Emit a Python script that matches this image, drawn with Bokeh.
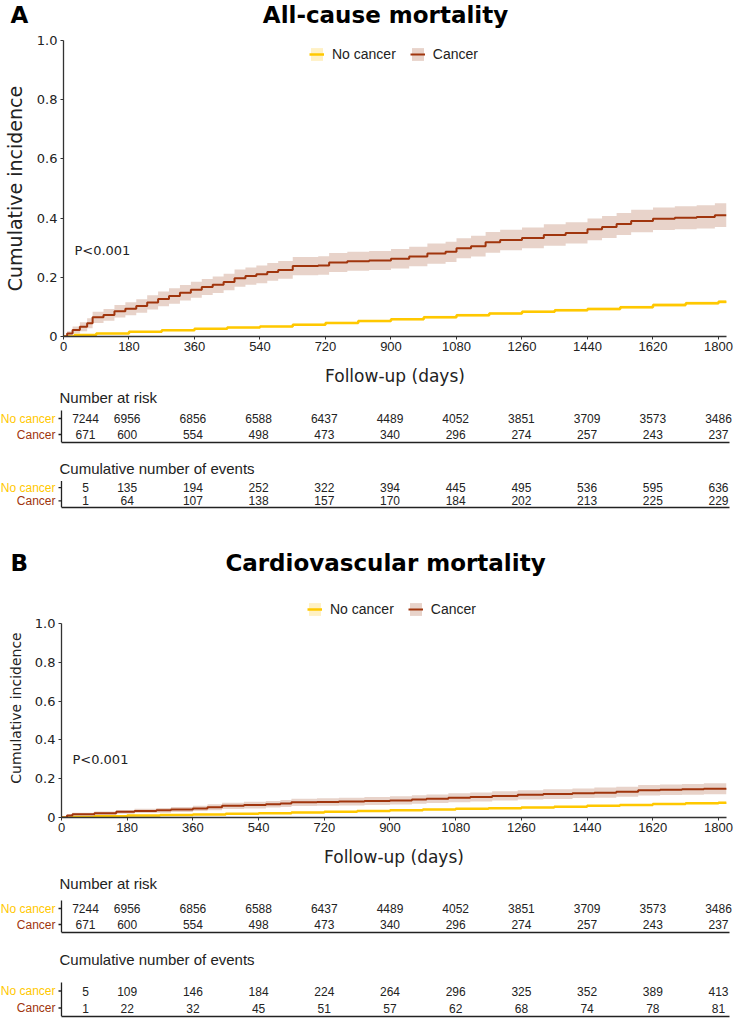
from math import pi
from bokeh.plotting import figure
from bokeh.models import Range1d, FixedTicker, Label, Legend, LegendItem
from bokeh.layouts import column
from bokeh.core.properties import value
from bokeh.embed import file_html
from bokeh.resources import INLINE

# ---------------- data ----------------
x_ticks = [0, 180, 360, 540, 720, 900, 1080, 1260, 1440, 1620, 1800]
y_ticks = [0, 0.2, 0.4, 0.6, 0.8, 1.0]
groups = ["No cancer", "Cancer"]

# Panel A: all-cause mortality
a_ca_t = [0, 10, 25, 45, 65, 80, 110, 140, 170, 200, 230, 260, 290, 320, 350, 380, 410, 440, 470, 500,
          530, 560, 590, 630, 700, 730, 780, 840, 900, 950, 1000, 1050, 1080, 1120, 1160, 1200, 1260, 1320,
          1380, 1440, 1480, 1520, 1560, 1620, 1680, 1740, 1790, 1822]
a_ca_y = [0, 0.010, 0.022, 0.033, 0.045, 0.065, 0.073, 0.085, 0.094, 0.103, 0.115, 0.127, 0.137, 0.148,
          0.158, 0.167, 0.175, 0.184, 0.197, 0.204, 0.21, 0.218, 0.225, 0.238, 0.24, 0.25, 0.254, 0.257,
          0.263, 0.27, 0.28, 0.286, 0.298, 0.305, 0.318, 0.326, 0.333, 0.343, 0.35, 0.362, 0.37, 0.38,
          0.39, 0.398, 0.401, 0.404, 0.41, 0.41]
a_ca_lo = [0, 0.002, 0.010, 0.018, 0.028, 0.046, 0.053, 0.064, 0.072, 0.080, 0.091, 0.102, 0.111, 0.122,
           0.131, 0.140, 0.147, 0.156, 0.168, 0.175, 0.180, 0.188, 0.195, 0.207, 0.209, 0.218, 0.222,
           0.225, 0.230, 0.237, 0.246, 0.252, 0.264, 0.270, 0.283, 0.291, 0.298, 0.307, 0.314, 0.325,
           0.333, 0.343, 0.352, 0.360, 0.362, 0.365, 0.370, 0.370]
a_ca_hi = [0.003, 0.018, 0.034, 0.048, 0.062, 0.084, 0.093, 0.106, 0.116, 0.126, 0.139, 0.152, 0.163,
           0.174, 0.185, 0.194, 0.203, 0.212, 0.226, 0.233, 0.240, 0.248, 0.255, 0.269, 0.271, 0.282,
           0.286, 0.289, 0.296, 0.303, 0.314, 0.320, 0.332, 0.340, 0.353, 0.361, 0.368, 0.379, 0.386,
           0.399, 0.407, 0.417, 0.428, 0.436, 0.440, 0.443, 0.450, 0.450]

a_nc_t = [0, 30, 90, 180, 270, 360, 450, 540, 630, 720, 810, 900, 990, 1080, 1170, 1260, 1350, 1440,
          1530, 1620, 1710, 1800, 1822]
a_nc_y = [0, 0.005, 0.010, 0.016, 0.021, 0.026, 0.030, 0.034, 0.040, 0.046, 0.052, 0.058, 0.065, 0.072,
          0.078, 0.084, 0.089, 0.093, 0.099, 0.106, 0.112, 0.117, 0.119]
a_nc_lo = [0, 0.003, 0.007, 0.013, 0.018, 0.023, 0.027, 0.031, 0.036, 0.042, 0.048, 0.054, 0.060, 0.067,
           0.073, 0.079, 0.084, 0.088, 0.094, 0.100, 0.106, 0.111, 0.113]
a_nc_hi = [0, 0.007, 0.013, 0.019, 0.024, 0.029, 0.033, 0.037, 0.044, 0.050, 0.056, 0.062, 0.070, 0.077,
           0.083, 0.089, 0.094, 0.098, 0.104, 0.112, 0.118, 0.123, 0.125]

a_risk_nc = [7244, 6956, 6856, 6588, 6437, 4489, 4052, 3851, 3709, 3573, 3486]
a_risk_ca = [671, 600, 554, 498, 473, 340, 296, 274, 257, 243, 237]
a_ev_nc = [5, 135, 194, 252, 322, 394, 445, 495, 536, 595, 636]
a_ev_ca = [1, 64, 107, 138, 157, 170, 184, 202, 213, 225, 229]

# Panel B: cardiovascular mortality
b_ca_t = [0, 15, 30, 90, 150, 200, 260, 300, 360, 400, 440, 500, 560, 600, 630, 700, 760, 830, 900, 960,
          1000, 1060, 1120, 1180, 1250, 1320, 1400, 1460, 1520, 1580, 1640, 1700, 1760, 1822]
b_ca_y = [0, 0.010, 0.017, 0.022, 0.029, 0.034, 0.037, 0.041, 0.047, 0.053, 0.060, 0.064, 0.068, 0.072,
          0.078, 0.080, 0.082, 0.085, 0.088, 0.093, 0.097, 0.102, 0.106, 0.111, 0.117, 0.121, 0.125,
          0.128, 0.133, 0.140, 0.143, 0.145, 0.148, 0.150]
b_ca_lo = [0, 0.004, 0.009, 0.013, 0.019, 0.023, 0.025, 0.028, 0.033, 0.038, 0.044, 0.047, 0.051, 0.054,
           0.059, 0.061, 0.062, 0.064, 0.067, 0.071, 0.075, 0.079, 0.083, 0.087, 0.093, 0.096, 0.100,
           0.102, 0.107, 0.113, 0.116, 0.117, 0.120, 0.121]
b_ca_hi = [0.003, 0.016, 0.025, 0.031, 0.039, 0.045, 0.049, 0.054, 0.061, 0.068, 0.076, 0.081, 0.085,
           0.090, 0.097, 0.099, 0.102, 0.106, 0.109, 0.115, 0.119, 0.125, 0.129, 0.135, 0.141, 0.146,
           0.150, 0.154, 0.159, 0.167, 0.170, 0.173, 0.176, 0.179]

b_nc_t = [0, 30, 90, 180, 270, 360, 450, 540, 630, 720, 810, 900, 990, 1080, 1170, 1260, 1350, 1440,
          1530, 1620, 1710, 1800, 1822]
b_nc_y = [0, 0.003, 0.006, 0.010, 0.013, 0.016, 0.019, 0.022, 0.026, 0.029, 0.033, 0.037, 0.041, 0.045,
          0.048, 0.052, 0.056, 0.060, 0.065, 0.070, 0.073, 0.076, 0.077]
b_nc_lo = [0, 0.001, 0.004, 0.007, 0.010, 0.013, 0.016, 0.019, 0.022, 0.025, 0.029, 0.033, 0.037, 0.041,
           0.044, 0.048, 0.052, 0.056, 0.060, 0.065, 0.068, 0.071, 0.072]
b_nc_hi = [0, 0.005, 0.008, 0.013, 0.016, 0.019, 0.022, 0.025, 0.030, 0.033, 0.037, 0.041, 0.045, 0.049,
           0.052, 0.056, 0.060, 0.064, 0.070, 0.075, 0.078, 0.081, 0.082]

b_risk_nc = [7244, 6956, 6856, 6588, 6437, 4489, 4052, 3851, 3709, 3573, 3486]
b_risk_ca = [671, 600, 554, 498, 473, 340, 296, 274, 257, 243, 237]
b_ev_nc = [5, 109, 146, 184, 224, 264, 296, 325, 352, 389, 413]
b_ev_ca = [1, 22, 32, 45, 51, 57, 62, 68, 74, 78, 81]

# ---------------- style ----------------
NC_COL = "#FFC800"
CA_COL = "#A0350D"
NC_BAND = "#FFF1C4"
CA_BAND = "#E8D3CA"
AX_COL = "#333333"
TXT = "#222222"
TFONT = "Liberation Sans"
W = 736


def make_header(height, letter, title, text_y):
    h = figure(width=W, height=height, output_backend="svg", toolbar_location=None, title=None,
               x_axis_location=None, y_axis_location=None, frame_align=False,
               min_border_left=0, min_border_right=0, min_border_top=0, min_border_bottom=0)
    h.xgrid.visible = False
    h.ygrid.visible = False
    h.outline_line_color = None
    h.add_layout(Label(x=10, y=text_y, x_units="screen", y_units="screen",
                       text=letter, text_font="DejaVu Sans", text_font_style="bold",
                       text_font_size="23px", text_color="#000000",
                       text_align="left", text_baseline="middle"))
    h.add_layout(Label(x=385, y=text_y, x_units="screen", y_units="screen",
                       text=title, text_font="DejaVu Sans", text_font_style="bold",
                       text_font_size="23px", text_color="#000000",
                       text_align="center", text_baseline="middle"))
    return h


def make_main(height, top, frame_h, y_top, nc, ca, p_y, legend_y, ylab_size):
    p = figure(width=W, height=height, x_range=Range1d(0, 1822), y_range=Range1d(0, y_top),
               min_border_left=61, min_border_right=10, min_border_top=top,
               min_border_bottom=height - top - frame_h, title=None, frame_align=False,
               output_backend="svg", toolbar_location=None)
    p.xgrid.visible = False
    p.ygrid.visible = False
    p.outline_line_color = None
    p.xaxis.ticker = FixedTicker(ticks=x_ticks)
    p.yaxis.ticker = FixedTicker(ticks=y_ticks)
    p.yaxis.bounds = (0, 1)
    p.yaxis.major_label_overrides = {0: "0", 1: "1.0"}
    for ax in (p.xaxis, p.yaxis):
        ax.axis_line_color = AX_COL
        ax.axis_line_width = 1.3
        ax.major_tick_line_color = AX_COL
        ax.major_tick_out = 3
        ax.major_tick_in = 0
        ax.minor_tick_out = 0
        ax.minor_tick_in = 0
        ax.major_label_text_color = TXT
        ax.major_label_text_font_size = "13px"
        ax.axis_label_text_font = "DejaVu Sans"
        ax.axis_label_text_font_style = "normal"
        ax.axis_label_text_color = TXT
    p.xaxis.major_label_text_font = "Liberation Sans"
    p.xaxis.major_label_standoff = 2
    p.xaxis.axis_label = "Follow-up (days)"
    p.xaxis.axis_label_text_font_size = "17px"
    p.xaxis.axis_label_standoff = 12
    p.yaxis.major_label_text_font = "DejaVu Sans"
    p.yaxis.major_label_standoff = 3
    p.yaxis.axis_label = "Cumulative incidence"
    p.yaxis.axis_label_text_font_size = ylab_size
    p.yaxis.axis_label_standoff = 8

    nt, ny, nlo, nhi = nc
    ct, cy, clo, chi = ca
    b1 = p.varea_step(x=nt, y1=nlo, y2=nhi, step_mode="after", fill_color=NC_BAND)
    b2 = p.varea_step(x=ct, y1=clo, y2=chi, step_mode="after", fill_color=CA_BAND)
    l1 = p.step(x=nt, y=ny, mode="after", line_color=NC_COL, line_width=2.5)
    l2 = p.step(x=ct, y=cy, mode="after", line_color=CA_COL, line_width=2)

    leg = Legend(items=[LegendItem(label=groups[0], renderers=[b1, l1]),
                        LegendItem(label=groups[1], renderers=[b2, l2])],
                 orientation="horizontal", location=(246, legend_y),
                 glyph_width=15, glyph_height=16, label_height=16, label_width=10,
                 label_text_font="Liberation Sans", label_text_font_size="14px",
                 label_text_color=TXT, label_standoff=8, spacing=14,
                 padding=0, margin=0, border_line_color=None, background_fill_alpha=0)
    p.add_layout(leg, "center")

    p.add_layout(Label(x=30, y=p_y, text="P<0.001", text_font="DejaVu Sans",
                       text_font_size="13px", text_color=TXT,
                       text_align="left", text_baseline="middle"))
    return p


def make_table(height, frame_h, row_px, title, title_y, nc_vals, ca_vals):
    # frame spans the full width; data x = 0 sits at 61 px, 1800 at 718 px
    t = figure(width=W, height=height, x_range=Range1d(-167.1, 1849.3),
               y_range=Range1d(0, frame_h / row_px), title=None,
               y_axis_location=None, frame_align=False,
               min_border_left=0, min_border_right=0, min_border_top=0,
               min_border_bottom=height - frame_h,
               output_backend="svg", toolbar_location=None)
    t.xgrid.visible = False
    t.ygrid.visible = False
    t.outline_line_color = None
    t.xaxis.ticker = FixedTicker(ticks=[])
    t.xaxis.bounds = (0, 1830)
    t.xaxis.axis_line_color = "#222222"
    t.xaxis.axis_line_width = 1.6
    t.xaxis.major_tick_out = 0
    t.xaxis.major_tick_in = 0
    t.xaxis.minor_tick_out = 0
    t.xaxis.minor_tick_in = 0

    # left rule of the table and its two row ticks
    t.segment(x0=[x_ticks[0]], y0=[0], x1=[x_ticks[0]], y1=[2], line_color="#222222", line_width=1.3)
    t.ray(x=[x_ticks[0]] * 2, y=[1.5, 0.5], length=3, length_units="screen", angle=pi,
          line_color="#222222", line_width=1.3)

    for vals, yy in ((nc_vals, 1.5), (ca_vals, 0.5)):
        t.text(x=x_ticks[1:], y=[yy] * (len(vals) - 1), text=[str(v) for v in vals[1:]],
               text_align="center", text_baseline="middle", text_font=value(TFONT),
               text_font_size="12px", text_color=TXT)
        t.text(x=x_ticks[:1], y=[yy], text=[str(vals[0])], x_offset=24,
               text_align="center", text_baseline="middle", text_font=value(TFONT),
               text_font_size="12px", text_color=TXT)

    t.add_layout(Label(x=55, y=1.5, x_units="screen", y_units="data", text=groups[0],
                       text_font=TFONT, text_font_size="12px", text_color=NC_COL,
                       text_align="right", text_baseline="middle"))
    t.add_layout(Label(x=55, y=0.5, x_units="screen", y_units="data", text=groups[1],
                       text_font=TFONT, text_font_size="12px", text_color=CA_COL,
                       text_align="right", text_baseline="middle"))
    t.add_layout(Label(x=59, y=title_y, x_units="screen", y_units="screen", text=title,
                       text_font=TFONT, text_font_size="15px", text_color=TXT,
                       text_align="left", text_baseline="middle"))
    return t


hA = make_header(30, "A", "All-cause mortality", 16)
pA = make_main(358, 10, 300, 1.0,
               (a_nc_t, a_nc_y, a_nc_lo, a_nc_hi), (a_ca_t, a_ca_y, a_ca_lo, a_ca_hi),
               0.29, 274, "19px")
tA1 = make_table(58, 54, 16, "Number at risk", 45, a_risk_nc, a_risk_ca)
tA2 = make_table(65, 61, 13.3, "Cumulative number of events", 39, a_ev_nc, a_ev_ca)
hB = make_header(69, "B", "Cardiovascular mortality", 18)
pB = make_main(290, 18, 219, 1 + 25 / 194,
               (b_nc_t, b_nc_y, b_nc_lo, b_nc_hi), (b_ca_t, b_ca_y, b_ca_lo, b_ca_hi),
               0.30, 200, "14px")
tB1 = make_table(66, 62, 16, "Number at risk", 49, b_risk_nc, b_risk_ca)
tB2 = make_table(82, 80, 17, "Cumulative number of events", 57, b_ev_nc, b_ev_ca)

layout = column(hA, pA, tA1, tA2, hB, pB, tB1, tB2, spacing=0)
open("out.html", "w").write(file_html(layout, INLINE))
